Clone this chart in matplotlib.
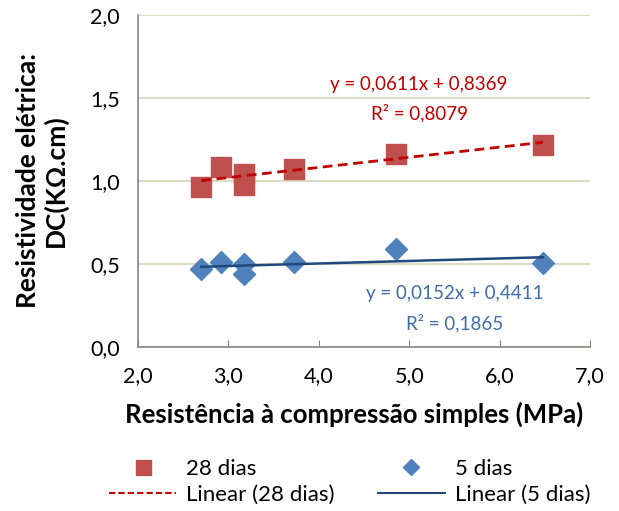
import numpy as np
import matplotlib.pyplot as plt
from matplotlib.lines import Line2D

plt.rcParams['font.family'] = ['Lato', 'DejaVu Sans']

# Resistência à compressão (MPa) e resistividade (KΩ.cm)
x_28 = [2.70, 2.92, 3.17, 3.17, 3.73, 4.85, 6.48]
y_28 = [0.964, 1.083, 1.044, 0.974, 1.069, 1.161, 1.219]
x_5 = [2.70, 2.92, 3.17, 3.17, 3.73, 4.85, 6.48]
y_5 = [0.468, 0.512, 0.496, 0.436, 0.508, 0.590, 0.502]

# coeficientes das linhas de tendência (y = a*x + b)
a_28, b_28, r2_28 = 0.0611, 0.8369, 0.8079
a_5, b_5, r2_5 = 0.0152, 0.4411, 0.1865

x_ticks = [2.0, 3.0, 4.0, 5.0, 6.0, 7.0]
y_ticks = [0.0, 0.5, 1.0, 1.5, 2.0]

cor_28 = '#C0504D'
cor_28_linha = '#C00000'
cor_5 = '#4F81BD'
cor_5_texto = '#3E6DAA'
cor_5_linha = '#1F497D'


def virgula(v, casas):
    return f'{v:.{casas}f}'.replace('.', ',')


fig = plt.figure(figsize=(6.19, 5.11), dpi=100)
ax = fig.add_axes([0.223, 0.3215, 0.730, 0.649])

ax.scatter(x_28, y_28, marker='s', s=205, color=cor_28, zorder=3)
ax.scatter(x_5, y_5, marker='D', s=125, color=cor_5, zorder=3)

# linhas de tendência
xl = np.array([min(x_28), max(x_28)])
ax.plot(xl, a_28 * xl + b_28, color=cor_28_linha, lw=2, ls=(0, (3.5, 2)), zorder=4)
xl5 = np.array([min(x_5), max(x_5)])
ax.plot(xl5, a_5 * xl5 + b_5, color=cor_5_linha, lw=1.8, zorder=4)

ax.text(5.11, 1.581, f'y = {virgula(a_28, 4)}x + {virgula(b_28, 4)}',
        color=cor_28_linha, fontsize=13.5, ha='center', va='center')
ax.text(5.11, 1.41, f'R² = {virgula(r2_28, 4)}',
        color=cor_28_linha, fontsize=13.5, ha='center', va='center')
ax.text(5.50, 0.323, f'y = {virgula(a_5, 4)}x + {virgula(b_5, 4)}',
        color=cor_5_texto, fontsize=13.5, ha='center', va='center')
ax.text(5.50, 0.145, f'R² = {virgula(r2_5, 4)}',
        color=cor_5_texto, fontsize=13.5, ha='center', va='center')

ax.set_xlim(2, 7)
ax.set_ylim(0, 2)
ax.set_xticks(x_ticks)
ax.set_yticks(y_ticks)
ax.set_xticklabels([virgula(v, 1) for v in x_ticks], fontsize=15.5)
ax.set_yticklabels([virgula(v, 1) for v in y_ticks], fontsize=15.5)
ax.tick_params(axis='x', direction='in', length=5, color='#868686', pad=14)
ax.tick_params(axis='y', length=0, pad=13)

ax.grid(axis='y', color='#DDDBC8', lw=1.5, zorder=0)
ax.set_axisbelow(True)
for lado in ['top', 'right']:
    ax.spines[lado].set_visible(False)
for lado in ['left', 'bottom']:
    ax.spines[lado].set_color('#868686')
    ax.spines[lado].set_linewidth(1.2)

ax.set_xlabel('Resistência à compressão simples (MPa)', fontsize=18.5,
              fontweight='bold', labelpad=5)
ax.xaxis.set_label_coords(0.478, -0.165)
ax.set_ylabel('Resistividade elétrica:\nDC(KΩ.cm)', fontsize=19,
              fontweight='bold', labelpad=16, linespacing=1.15)

handles = [
    Line2D([], [], marker='s', color=cor_28, ls='none', markersize=10.8),
    Line2D([], [], color=cor_28_linha, lw=1.5, ls=(0, (3, 1.5))),
    Line2D([], [], marker='D', color=cor_5, ls='none', markersize=8.2),
    Line2D([], [], color=cor_5_linha, lw=1.5),
]
labels = ['28 dias', 'Linear (28 dias)', '5 dias', 'Linear (5 dias)']
fig.legend(handles, labels, ncol=2, loc='center', bbox_to_anchor=(0.565, 0.057),
           frameon=False, fontsize=16, handlelength=3.0, handletextpad=0.45,
           columnspacing=1.95, labelspacing=0.25, borderpad=0)

fig.savefig('out.png', dpi=100)
